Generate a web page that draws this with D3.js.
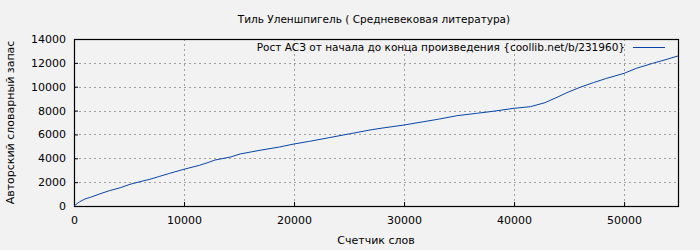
<!DOCTYPE html>
<html>
<head>
<meta charset="utf-8">
<script src="https://cdn.jsdelivr.net/npm/d3@7"></script>
<style>
  body { margin: 0; background: #f2f2f2; }
  svg { display: block; font-family: "DejaVu Sans", sans-serif; }
</style>
</head>
<body>
<svg id="chart" width="700" height="250"></svg>
<script>
// word counter (x) and author's vocabulary size (y)
const words = [0, 500, 1000, 1500, 2300, 3200, 4200, 5100, 6000, 6900, 7800, 8700,
  10000, 11400, 12300, 12800, 14200, 15100, 16900, 18700, 20000, 21400, 23200, 25100,
  26900, 28000, 30000, 31800, 33200, 34800, 36600, 38100, 40000, 41500, 42800, 43900,
  44800, 46000, 47200, 48400, 50000, 51100, 52600, 53900, 54900];
const vocab = [0, 350, 590, 730, 1000, 1280, 1530, 1820, 2040, 2240, 2490, 2740,
  3080, 3410, 3680, 3850, 4100, 4360, 4670, 4950, 5200, 5420, 5730, 6060,
  6370, 6530, 6790, 7070, 7290, 7570, 7770, 7940, 8190, 8330, 8660, 9110,
  9500, 9950, 10340, 10700, 11120, 11540, 11960, 12300, 12580];
const xTicks = [0, 10000, 20000, 30000, 40000, 50000];
const yTicks = [0, 2000, 4000, 6000, 8000, 10000, 12000, 14000];

const title = 'Тиль Уленшпигель ( Средневековая литература)';
const xTitle = 'Счетчик слов';
const yTitle = 'Авторский словарный запас';
const seriesName = 'Рост АСЗ от начала до конца произведения {coollib.net/b/231960}';
const lineColor = '#0645ad';

const margin = { top: 39, right: 22, bottom: 44, left: 74 };
const width = 700, height = 250;
const innerWidth = width - margin.left - margin.right;
const innerHeight = height - margin.top - margin.bottom;

const svg = d3.select('#chart');
const chart = svg.append('g')
  .attr('transform', `translate(${margin.left},${margin.top})`);

const xScale = d3.scaleLinear().domain([0, 54900]).range([0, innerWidth]);
const yScale = d3.scaleLinear().domain([0, 14000]).range([innerHeight, 0]);

// grid
chart.append('g')
  .selectAll('line')
  .data(xTicks.slice(1))
  .join('line')
  .attr('x1', d => Math.round(xScale(d)) + 0.5)
  .attr('x2', d => Math.round(xScale(d)) + 0.5)
  .attr('y1', 0)
  .attr('y2', innerHeight)
  .attr('stroke', '#a0a0a0')
  .attr('stroke-dasharray', '2,3');
chart.append('g')
  .selectAll('line')
  .data(yTicks.slice(1, -1))
  .join('line')
  .attr('x1', 0)
  .attr('x2', innerWidth)
  .attr('y1', d => Math.round(yScale(d)) + 0.5)
  .attr('y2', d => Math.round(yScale(d)) + 0.5)
  .attr('stroke', '#a0a0a0')
  .attr('stroke-dasharray', '2,3');

// axes
const xAxis = chart.append('g')
  .attr('transform', `translate(0,${innerHeight})`)
  .call(d3.axisBottom(xScale).tickValues(xTicks).tickSize(-4).tickPadding(10).tickFormat(d3.format('d')));
const yAxis = chart.append('g')
  .call(d3.axisLeft(yScale).tickValues(yTicks).tickSize(-4).tickPadding(8).tickFormat(d3.format('d')));
[xAxis, yAxis].forEach(a => {
  a.select('.domain').remove();
  a.selectAll('line').attr('stroke', '#000');
  a.selectAll('text').attr('font-size', 11).attr('fill', '#000')
    .attr('font-family', '"DejaVu Sans", sans-serif');
});

// frame
chart.append('rect')
  .attr('x', 0.5)
  .attr('y', 0.5)
  .attr('width', innerWidth)
  .attr('height', innerHeight)
  .attr('fill', 'none')
  .attr('stroke', '#000')
  .attr('stroke-width', 1.2);

// series
const points = words.map((w, i) => ({ x: w, y: vocab[i] }));
chart.append('path')
  .datum(points)
  .attr('fill', 'none')
  .attr('stroke', lineColor)
  .attr('stroke-width', 1)
  .attr('d', d3.line().x(d => xScale(d.x)).y(d => yScale(d.y)));

// legend
const legend = chart.append('g');
legend.append('text')
  .attr('x', 551)
  .attr('y', 8)
  .attr('dy', '0.35em')
  .attr('text-anchor', 'end')
  .attr('font-size', 10.5)
  .text(seriesName);
legend.append('line')
  .attr('x1', 559)
  .attr('x2', 591)
  .attr('y1', 8.5)
  .attr('y2', 8.5)
  .attr('stroke', lineColor);

// titles
svg.append('text')
  .attr('x', 374)
  .attr('y', 23)
  .attr('text-anchor', 'middle')
  .attr('font-size', 10.5)
  .text(title);
svg.append('text')
  .attr('x', 376)
  .attr('y', 244)
  .attr('text-anchor', 'middle')
  .attr('font-size', 11)
  .text(xTitle);
svg.append('text')
  .attr('transform', 'rotate(-90)')
  .attr('x', -(margin.top + innerHeight / 2))
  .attr('y', 14)
  .attr('text-anchor', 'middle')
  .attr('font-size', 11)
  .text(yTitle);
</script>
</body>
</html>
